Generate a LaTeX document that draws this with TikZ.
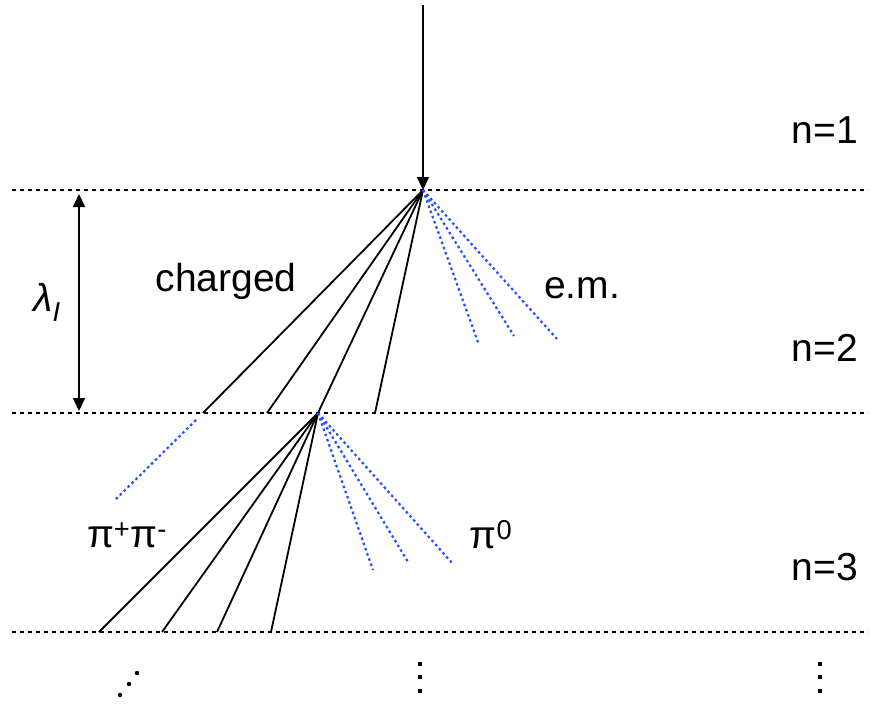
\documentclass[tikz,border=0pt]{standalone}
\usepackage{fontspec}
\setmainfont{Liberation Sans}
\usetikzlibrary{arrows.meta}
\definecolor{emblue}{RGB}{30,80,255}
\begin{document}
\begin{tikzpicture}[x=1pt,y=-1pt,
  level/.style={line width=1.5pt, dash pattern=on 4pt off 4pt},
  track/.style={line width=1.8pt},
  gam/.style={line width=2.2pt, color=emblue, dash pattern=on 2.5pt off 3pt},
  lbl/.style={font=\fontsize{39}{42}\selectfont, inner sep=0pt},
  rdot/.style={fill, circle, inner sep=0pt, minimum size=4.5pt},
  sdot/.style={fill, rectangle, inner sep=0pt, minimum size=3.5pt},
  tip/.style={-{Triangle[length=13pt,width=12pt]}}
]
\useasboundingbox (0,0) rectangle (872,704);
% levels
\coordinate (l1a) at (12,190);  \coordinate (l1b) at (868,190);
\coordinate (l2a) at (12,413);  \coordinate (l2b) at (868,413);
\coordinate (l3a) at (12,632);  \coordinate (l3b) at (868,632);
\draw[level] (l1a) -- (l1b);
\draw[level] (l2a) -- (l2b);
\draw[level] (l3a) -- (l3b);
% vertices
\coordinate (top) at (423,5);
\coordinate (V1) at (423,190);
\coordinate (V2) at (318,413);
\draw[track,tip] (top) -- (V1);
% lambda arrow
\coordinate (La) at (79,194);
\coordinate (Lb) at (79,411);
\draw[track,{Triangle[length=13pt,width=12pt]}-{Triangle[length=13pt,width=12pt]}] (La) -- (Lb);
% first interaction, charged
\coordinate (c1) at (203,413);
\coordinate (c2) at (267,413);
\coordinate (c4) at (375,413);
\draw[track] (V1) -- (c1);
\draw[track] (V1) -- (c2);
\draw[track] (V1) -- (V2);
\draw[track] (V1) -- (c4);
% first interaction, e.m.
\coordinate (g1) at (479,345);
\coordinate (g2) at (514,336);
\coordinate (g3) at (557,339);
\draw[gam] (V1) -- (g1);
\draw[gam] (V1) -- (g2);
\draw[gam] (V1) -- (g3);
% continuation
\coordinate (k1) at (196,420);
\coordinate (k2) at (114,501);
\draw[gam] (k1) -- (k2);
% second interaction, charged
\coordinate (d1) at (99,632);
\coordinate (d2) at (162,632);
\coordinate (d3) at (217,632);
\coordinate (d4) at (271,632);
\draw[track] (V2) -- (d1);
\draw[track] (V2) -- (d2);
\draw[track] (V2) -- (d3);
\draw[track] (V2) -- (d4);
% second interaction, e.m.
\coordinate (h1) at (373,570);
\coordinate (h2) at (408,562);
\coordinate (h3) at (453,564);
\draw[gam] (V2) -- (h1);
\draw[gam] (V2) -- (h2);
\draw[gam] (V2) -- (h3);
% labels
\node[lbl] (charged) at (226,281) {charged};
\node[lbl] (em) at (582,288) {e.m.};
\node[lbl] (n1) at (825,130) {n=1};
\node[lbl] (n2) at (825,348) {n=2};
\node[lbl] (n3) at (825,567) {n=3};
\node[lbl] (lam) at (47,302) {\itshape λ\textsubscript{I}};
\node[lbl] (pipm) at (127,535) {π\textsuperscript{+}π\textsuperscript{-}};
\node[lbl] (pi0) at (491,535) {π\textsuperscript{0}};
% dots
\node[rdot] (a1) at (137,673) {};
\node[rdot] (a2) at (129,684) {};
\node[rdot] (a3) at (120,695) {};
\node[sdot] (b1) at (420,664) {};
\node[sdot] (b2) at (420,677) {};
\node[sdot] (b3) at (420,691) {};
\node[sdot] (e1) at (820,664) {};
\node[sdot] (e2) at (820,677) {};
\node[sdot] (e3) at (820,691) {};
\end{tikzpicture}
\end{document}
